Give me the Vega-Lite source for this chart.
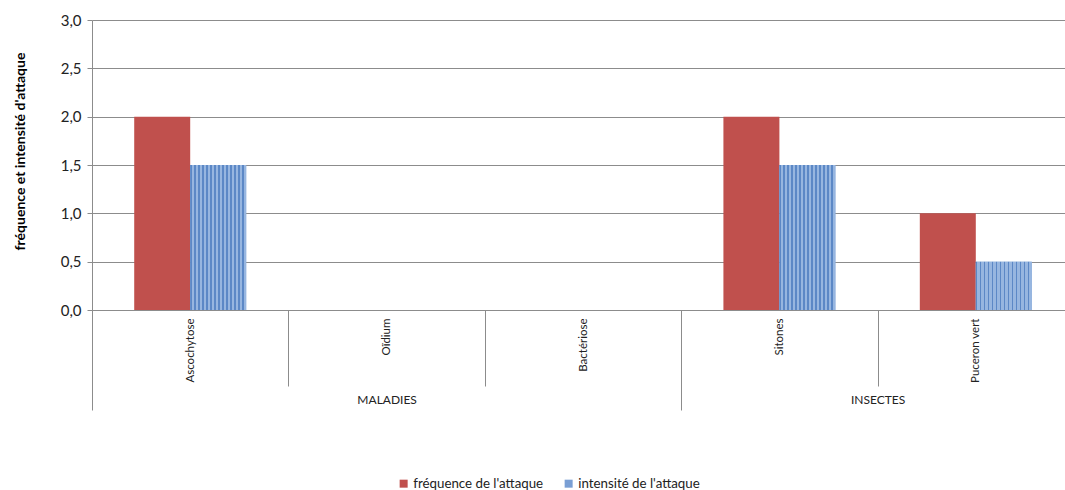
{
  "$schema": "https://vega.github.io/schema/vega-lite/v6.json",
  "width": 973,
  "height": 290,
  "autosize": {"type": "none"},
  "padding": {"left": 92, "top": 20, "right": 0, "bottom": 180},
  "background": "white",
  "config": {
    "font": "Lato",
    "view": {"stroke": null},
    "axis": {"labelColor": "#222222", "titleColor": "#000000"}
  },
  "layer": [
    {
      "data": {
        "values": [
          {"categorie": "Ascochytose", "groupe": "MALADIES", "serie": "fréquence de l'attaque", "valeur": 2.0},
          {"categorie": "Ascochytose", "groupe": "MALADIES", "serie": "intensité de l'attaque", "valeur": 1.5},
          {"categorie": "Oïdium", "groupe": "MALADIES", "serie": "fréquence de l'attaque", "valeur": 0},
          {"categorie": "Oïdium", "groupe": "MALADIES", "serie": "intensité de l'attaque", "valeur": 0},
          {"categorie": "Bactériose", "groupe": "MALADIES", "serie": "fréquence de l'attaque", "valeur": 0},
          {"categorie": "Bactériose", "groupe": "MALADIES", "serie": "intensité de l'attaque", "valeur": 0},
          {"categorie": "Sitones", "groupe": "INSECTES", "serie": "fréquence de l'attaque", "valeur": 2.0},
          {"categorie": "Sitones", "groupe": "INSECTES", "serie": "intensité de l'attaque", "valeur": 1.5},
          {"categorie": "Puceron vert", "groupe": "INSECTES", "serie": "fréquence de l'attaque", "valeur": 1.0},
          {"categorie": "Puceron vert", "groupe": "INSECTES", "serie": "intensité de l'attaque", "valeur": 0.5}
        ]
      },
      "layer": [
        {
          "mark": {"type": "bar"},
          "encoding": {
            "x": {
              "field": "categorie", "type": "nominal", "sort": null,
              "scale": {"range": [0, 982], "paddingInner": 0, "paddingOuter": 0},
              "axis": {
                "title": null, "labelAngle": -90, "labelFontSize": 11.5, "labelPadding": -68,
                "tickBand": "extent", "tickSize": 76, "tickColor": "#8c8c8c", "tickWidth": 1,
                "domainColor": "#8c8c8c", "domainWidth": 1, "grid": false
              }
            },
            "xOffset": {
              "field": "serie", "type": "nominal",
              "scale": {"domain": ["fréquence de l'attaque", "intensité de l'attaque"], "paddingInner": 0, "paddingOuter": 0.754}
            },
            "y": {
              "field": "valeur", "type": "quantitative",
              "scale": {"domain": [0, 3], "nice": false},
              "axis": {
                "title": "fréquence et intensité d'attaque", "titleFontSize": 14, "titleFontWeight": "bold",
                "titlePadding": 33, "titleY": 131,
                "values": [0, 0.5, 1, 1.5, 2, 2.5, 3],
                "labelExpr": "replace(format(datum.value, '.1f'), '.', ',')",
                "labelFontSize": 15, "labelPadding": 6,
                "grid": true, "gridColor": "#8c8c8c", "gridWidth": 1,
                "tickColor": "#8c8c8c", "tickSize": 5, "domainColor": "#8c8c8c"
              }
            },
            "color": {
              "field": "serie", "type": "nominal",
              "scale": {"domain": ["fréquence de l'attaque", "intensité de l'attaque"], "range": ["#C0504D", "#7A9FD4"]},
              "legend": {
                "title": null, "orient": "none", "direction": "horizontal",
                "legendX": 305, "legendY": 457, "padding": 0,
                "symbolType": "square", "symbolSize": 64, "symbolStrokeWidth": 0,
                "labelFontSize": 13.3, "labelColor": "#222222", "labelOffset": 3, "columnPadding": 18
              }
            }
          }
        },
        {
          "transform": [{"filter": {"field": "serie", "equal": "intensité de l'attaque"}}],
          "mark": {
            "type": "bar",
            "fill": {
              "gradient": "linear", "x1": 0, "x2": 1, "y1": 0, "y2": 0,
              "stops": [
                {"offset": 0.0, "color": "#5C88C6"}, {"offset": 0.025, "color": "#5C88C6"}, {"offset": 0.025, "color": "#97B6E0"}, {"offset": 0.0714, "color": "#97B6E0"},
                {"offset": 0.0714, "color": "#5C88C6"}, {"offset": 0.0964, "color": "#5C88C6"}, {"offset": 0.0964, "color": "#97B6E0"}, {"offset": 0.1429, "color": "#97B6E0"},
                {"offset": 0.1429, "color": "#5C88C6"}, {"offset": 0.1679, "color": "#5C88C6"}, {"offset": 0.1679, "color": "#97B6E0"}, {"offset": 0.2143, "color": "#97B6E0"},
                {"offset": 0.2143, "color": "#5C88C6"}, {"offset": 0.2393, "color": "#5C88C6"}, {"offset": 0.2393, "color": "#97B6E0"}, {"offset": 0.2857, "color": "#97B6E0"},
                {"offset": 0.2857, "color": "#5C88C6"}, {"offset": 0.3107, "color": "#5C88C6"}, {"offset": 0.3107, "color": "#97B6E0"}, {"offset": 0.3571, "color": "#97B6E0"},
                {"offset": 0.3571, "color": "#5C88C6"}, {"offset": 0.3821, "color": "#5C88C6"}, {"offset": 0.3821, "color": "#97B6E0"}, {"offset": 0.4286, "color": "#97B6E0"},
                {"offset": 0.4286, "color": "#5C88C6"}, {"offset": 0.4536, "color": "#5C88C6"}, {"offset": 0.4536, "color": "#97B6E0"}, {"offset": 0.5, "color": "#97B6E0"},
                {"offset": 0.5, "color": "#5C88C6"}, {"offset": 0.525, "color": "#5C88C6"}, {"offset": 0.525, "color": "#97B6E0"}, {"offset": 0.5714, "color": "#97B6E0"},
                {"offset": 0.5714, "color": "#5C88C6"}, {"offset": 0.5964, "color": "#5C88C6"}, {"offset": 0.5964, "color": "#97B6E0"}, {"offset": 0.6429, "color": "#97B6E0"},
                {"offset": 0.6429, "color": "#5C88C6"}, {"offset": 0.6679, "color": "#5C88C6"}, {"offset": 0.6679, "color": "#97B6E0"}, {"offset": 0.7143, "color": "#97B6E0"},
                {"offset": 0.7143, "color": "#5C88C6"}, {"offset": 0.7393, "color": "#5C88C6"}, {"offset": 0.7393, "color": "#97B6E0"}, {"offset": 0.7857, "color": "#97B6E0"},
                {"offset": 0.7857, "color": "#5C88C6"}, {"offset": 0.8107, "color": "#5C88C6"}, {"offset": 0.8107, "color": "#97B6E0"}, {"offset": 0.8571, "color": "#97B6E0"},
                {"offset": 0.8571, "color": "#5C88C6"}, {"offset": 0.8821, "color": "#5C88C6"}, {"offset": 0.8821, "color": "#97B6E0"}, {"offset": 0.9286, "color": "#97B6E0"},
                {"offset": 0.9286, "color": "#5C88C6"}, {"offset": 0.9536, "color": "#5C88C6"}, {"offset": 0.9536, "color": "#97B6E0"}, {"offset": 1.0, "color": "#97B6E0"}
              ]
            }
          },
          "encoding": {
            "x": {"field": "categorie", "type": "nominal", "sort": null},
            "xOffset": {"field": "serie", "type": "nominal"},
            "y": {"field": "valeur", "type": "quantitative"}
          }
        }
      ]
    },
    {
      "data": {"values": [{"pos": 0}, {"pos": 5}]},
      "mark": {"type": "point", "opacity": 0},
      "encoding": {
        "x": {
          "field": "pos", "type": "quantitative",
          "scale": {"domain": [0, 5], "range": [0, 982], "nice": false, "zero": false},
          "axis": {
            "orient": "bottom", "title": null, "grid": false, "domain": false,
            "values": [0, 1.5, 3, 4, 5],
            "tickSize": 100, "tickWidth": 1,
            "tickColor": {"condition": {"test": "datum.value == 1.5 || datum.value == 4", "value": "transparent"}, "value": "#8c8c8c"},
            "labelExpr": "datum.value == 1.5 ? 'MALADIES' : (datum.value == 4 ? 'INSECTES' : '')",
            "labelFontSize": 12, "labelAngle": 0, "labelPadding": -16, "labelFlush": false, "labelOverlap": false
          }
        }
      }
    }
  ],
  "resolve": {"scale": {"x": "independent"}, "axis": {"x": "independent"}}
}
